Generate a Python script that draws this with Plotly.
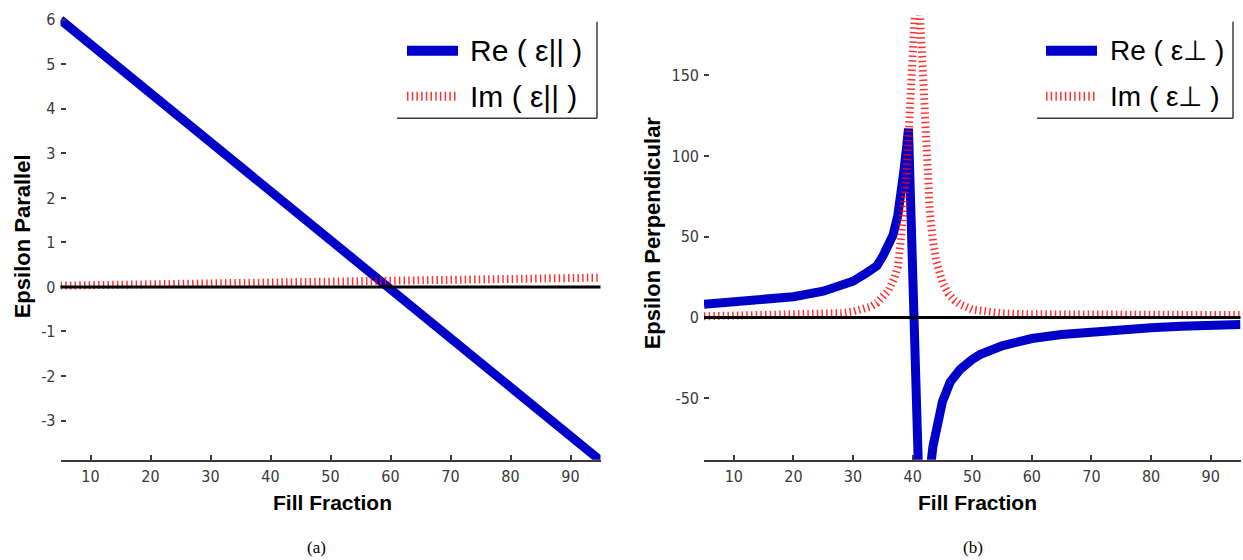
import plotly.graph_objects as go

W, H = 1243, 560

# ---------------- data ----------------
fill_a = [5, 10, 15, 20, 25, 30, 35, 40, 45, 50, 55, 60, 65, 70, 75, 80, 85, 90, 95]
re_par = [6.0, 5.45, 4.9, 4.35, 3.8, 3.25, 2.7, 2.15, 1.6, 1.05, 0.5, -0.05, -0.6,
          -1.15, -1.7, -2.25, -2.8, -3.35, -3.9]
im_par = [0.03, 0.04, 0.05, 0.06, 0.07, 0.08, 0.09, 0.10, 0.11, 0.12, 0.13, 0.14,
          0.15, 0.16, 0.17, 0.18, 0.19, 0.20, 0.21]

fill_b_re = [5, 10, 15, 20, 25, 28, 30, 32, 34, 35, 36, 36.7, 37.5, 38, 38.5, 39, 39.3,
             41.3, 42.3, 43.4, 44.2, 45, 46.3, 47, 48, 50, 51.3, 55, 60, 65, 70, 75,
             80, 85, 90, 95]
re_perp = [8.2, 9.4, 10.9, 12.9, 16.3, 19.5, 22.5, 27.0, 32.0, 38.0, 45.0, 51.0, 63.0,
           74.0, 90.0, 106.0, 117.0,
           -135.0, -115.0, -80.0, -64.0, -52.0, -40.0, -36.0, -32.0, -26.0, -23.0,
           -17.5, -13.0, -10.5, -8.8, -7.3, -6.3, -5.4, -4.8, -4.3]

fill_b_im = [5, 10, 15, 20, 25, 28, 30, 32, 33, 34, 35, 36, 37, 37.5, 38, 38.5, 39,
             39.5, 40, 40.3, 40.7, 41.1, 41.4, 41.9, 42.4, 42.9, 43.4, 44, 45, 46,
             47, 48, 50, 55, 60, 70, 80, 95]
im_perp = [0.8, 1.0, 1.2, 1.5, 2.0, 2.7, 3.7, 5.4, 6.8, 9.0, 12.8, 17.0, 25.0, 31.0,
           47.6, 64.4, 89.6, 126.0, 172.0, 197.6, 212.6, 197.6, 172.0, 126.0, 89.6,
           64.4, 47.6, 34.4, 21.7, 14.8, 10.7, 8.1, 5.0, 2.6, 2.0, 1.8, 1.6, 1.5]

x_ticks = [10, 20, 30, 40, 50, 60, 70, 80, 90]
x_ticktext = ["10", "20", "30", "40", "50", "60", "70", "80", "90"]
ya_ticks = [-3, -2, -1, 0, 1, 2, 3, 4, 5, 6]
ya_ticktext = ["-3", "-2", "-1", "0", "1", "2", "3", "4", "5", "6"]
yb_ticks = [-50, 0, 50, 100, 150]
yb_ticktext = ["-50", "0", "50", "100", "150"]

legend_a = ["Re ( \u03b5|| )", "Im ( \u03b5|| )"]
legend_b = ["Re ( \u03b5\u22a5 )", "Im ( \u03b5\u22a5 )"]

# ---------------- styles ----------------
BLUE = "#0000C8"
RED = "rgba(255,0,0,0.8)"
AX = "#3a3a3a"
NARROW = "Liberation Sans Narrow, DejaVu Sans Condensed, Arial Narrow, sans-serif"
SANS = "Liberation Sans, Arial, sans-serif"
RED_DASH = "1.5px,3.2px"


def px(x):
    return x / W


def py(y):
    return 1 - y / H


fig = go.Figure()

fig.add_trace(go.Scatter(x=fill_a, y=re_par, mode="lines", xaxis="x", yaxis="y",
                         line=dict(color=BLUE, width=9), showlegend=False))
fig.add_trace(go.Scatter(x=fill_a, y=im_par, mode="lines", xaxis="x", yaxis="y",
                         line=dict(color=RED, width=8, dash=RED_DASH), showlegend=False))
fig.add_trace(go.Scatter(x=fill_b_re, y=re_perp, mode="lines", xaxis="x2", yaxis="y2",
                         line=dict(color=BLUE, width=9), showlegend=False))
fig.add_trace(go.Scatter(x=fill_b_im, y=im_perp, mode="lines", xaxis="x2", yaxis="y2",
                         line=dict(color=RED, width=8, dash=RED_DASH), showlegend=False))

ydom = [py(459), py(11)]
tick_font = dict(family=NARROW, size=16, color=AX)
xaxis_common = dict(range=[5, 95], tickvals=x_ticks, ticktext=x_ticktext,
                    ticks="inside", ticklen=5,
                    tickwidth=1.5, tickcolor=AX, showline=True, linecolor=AX,
                    linewidth=1.5, showgrid=False, zeroline=False,
                    tickfont=tick_font, ticklabelstandoff=1)
yaxis_common = dict(ticks="inside", ticklen=5, tickwidth=1.5, tickcolor=AX,
                    showline=False, showgrid=False, zeroline=False,
                    tickfont=tick_font, ticklabelstandoff=4, domain=ydom)

fig.update_layout(
    width=W, height=H,
    margin=dict(l=0, r=0, t=0, b=0),
    paper_bgcolor="white", plot_bgcolor="white",
    showlegend=False,
    xaxis=dict(domain=[px(60.5), px(600.5)], anchor="y", **xaxis_common),
    yaxis=dict(range=[-3.88, 6.11], tickvals=ya_ticks, ticktext=ya_ticktext,
               anchor="x", **yaxis_common),
    xaxis2=dict(domain=[px(704), px(1240.5)], anchor="y2", **xaxis_common),
    yaxis2=dict(range=[-88.1, 187.5], tickvals=yb_ticks, ticktext=yb_ticktext,
                anchor="x2", **yaxis_common),
)

shapes = []
# zero baselines (on top)
shapes.append(dict(type="line", xref="x domain", yref="y", x0=0, x1=1, y0=0, y1=0,
                   line=dict(color="black", width=3), layer="above"))
shapes.append(dict(type="line", xref="x2 domain", yref="y2", x0=0, x1=1, y0=0, y1=0,
                   line=dict(color="black", width=3), layer="above"))


def add_legend(left, right, sx0, sx1, tx, labels, fsize):
    shapes.append(dict(type="line", xref="paper", yref="paper",
                       x0=px(sx0), x1=px(sx1), y0=py(47), y1=py(47),
                       line=dict(color=BLUE, width=10)))
    shapes.append(dict(type="line", xref="paper", yref="paper",
                       x0=px(sx0), x1=px(sx1), y0=py(93), y1=py(93),
                       line=dict(color=RED, width=9, dash=RED_DASH)))
    shapes.append(dict(type="line", xref="paper", yref="paper",
                       x0=px(right), x1=px(right), y0=py(18), y1=py(115),
                       line=dict(color=AX, width=1.5)))
    shapes.append(dict(type="line", xref="paper", yref="paper",
                       x0=px(left), x1=px(right), y0=py(115), y1=py(115),
                       line=dict(color=AX, width=1.5)))
    anns = []
    for lab, yy in zip(labels, [47, 93]):
        anns.append(dict(xref="paper", yref="paper", x=px(tx), y=py(yy),
                         xanchor="left", yanchor="middle", text=lab, showarrow=False,
                         font=dict(family=SANS, size=fsize, color="black")))
    return anns


annotations = []
annotations += add_legend(397, 597, 407, 458, 468, legend_a, 30)
annotations += add_legend(1037, 1233, 1046, 1097, 1108, legend_b, 28)

title_font = dict(family=SANS, size=21, color="black", weight="bold")
annotations.append(dict(xref="paper", yref="paper", x=px(333), y=py(502),
                        text="Fill Fraction", showarrow=False, font=title_font,
                        xanchor="center", yanchor="middle"))
annotations.append(dict(xref="paper", yref="paper", x=px(977), y=py(502),
                        text="Fill Fraction", showarrow=False, font=title_font,
                        xanchor="center", yanchor="middle"))
vt_font = dict(family=SANS, size=22, color="black", weight="bold")
annotations.append(dict(xref="paper", yref="paper", x=px(22), y=py(234),
                        text="Epsilon Parallel", showarrow=False, font=vt_font,
                        textangle=-90, xanchor="center", yanchor="middle"))
annotations.append(dict(xref="paper", yref="paper", x=px(652), y=py(231),
                        text="Epsilon Perpendicular", showarrow=False, font=vt_font,
                        textangle=-90, xanchor="center", yanchor="middle"))
cap_font = dict(family="Liberation Serif, Times New Roman, serif", size=17, color="black")
annotations.append(dict(xref="paper", yref="paper", x=px(316), y=py(547), text="(a)",
                        showarrow=False, font=cap_font, xanchor="center", yanchor="middle"))
annotations.append(dict(xref="paper", yref="paper", x=px(973), y=py(547), text="(b)",
                        showarrow=False, font=cap_font, xanchor="center", yanchor="middle"))

fig.update_layout(shapes=shapes, annotations=annotations)
fig.write_html("out.html")
